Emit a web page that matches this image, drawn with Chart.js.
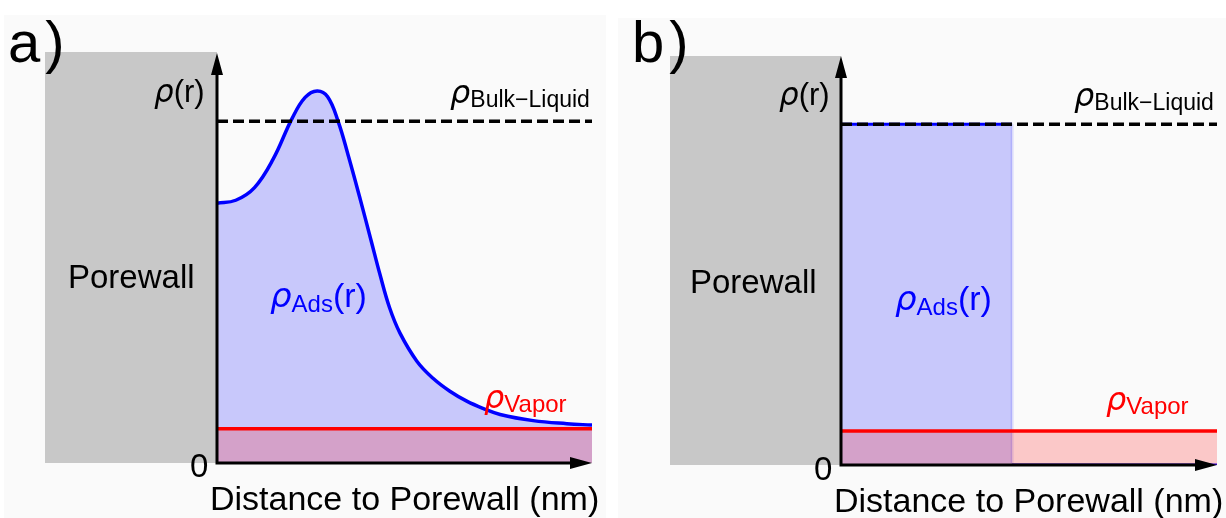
<!DOCTYPE html>
<html>
<head>
<meta charset="utf-8">
<script src="https://cdn.jsdelivr.net/npm/chart.js@4.4.1/dist/chart.umd.min.js"></script>
<style>
  html, body { margin:0; padding:0; background:#fff; }
  #wrap { position:relative; width:1226px; height:518px; overflow:hidden; font-family:"Liberation Sans", Arial, sans-serif; color:#000; }
  .panel { position:absolute; background:#fafafa; }
  .wall { position:absolute; background:#c8c8c8; }
  canvas { position:absolute; top:0; }
  .t { position:absolute; white-space:nowrap; line-height:1; }
  .rho { font-family:"DejaVu Sans", sans-serif; font-style:italic; }
  .sub { position:relative; }
</style>
</head>
<body>
<div id="wrap">
  <div class="panel" style="left:4px;top:15px;width:602px;height:503px"></div>
  <div class="panel" style="left:618px;top:18px;width:608px;height:500px"></div>
  <div class="wall" style="left:45px;top:52px;width:172px;height:411px"></div>
  <div class="wall" style="left:670px;top:56px;width:171px;height:409px"></div>
  <canvas id="chartA" width="613" height="518" style="left:0"></canvas>
  <canvas id="chartB" width="613" height="518" style="left:613px"></canvas>

  <!-- panel a -->
  <div class="t" style="left:8px;top:13px;font-size:58px;letter-spacing:5px">a)</div>
  <div class="t" style="left:154px;top:76px;font-size:31px"><span class="rho">ρ</span>(r)</div>
  <div class="t" style="left:450px;top:76px;font-size:32px"><span class="rho">ρ</span><span class="sub" style="font-size:23px;top:4px">Bulk−Liquid</span></div>
  <div class="t" style="left:68px;top:260px;font-size:33px">Porewall</div>
  <div class="t" style="left:270px;top:278px;font-size:34px;color:#0000ff"><span class="rho">ρ</span><span class="sub" style="font-size:24px;top:5px">Ads</span>(r)</div>
  <div class="t" style="left:484px;top:381px;font-size:32px;color:#ff0000"><span class="rho">ρ</span><span class="sub" style="font-size:24px;top:4px">Vapor</span></div>
  <div class="t" style="left:190px;top:449px;font-size:33px">0</div>
  <div class="t" style="left:210px;top:481px;font-size:34px">Distance to Porewall (nm)</div>

  <!-- panel b -->
  <div class="t" style="left:632px;top:13px;font-size:58px;letter-spacing:5px">b)</div>
  <div class="t" style="left:779px;top:79px;font-size:31px"><span class="rho">ρ</span>(r)</div>
  <div class="t" style="left:1074px;top:79px;font-size:32px"><span class="rho">ρ</span><span class="sub" style="font-size:23px;top:4px">Bulk−Liquid</span></div>
  <div class="t" style="left:690px;top:265px;font-size:33px">Porewall</div>
  <div class="t" style="left:895px;top:281px;font-size:34px;color:#0000ff"><span class="rho">ρ</span><span class="sub" style="font-size:24px;top:5px">Ads</span>(r)</div>
  <div class="t" style="left:1106px;top:383px;font-size:32px;color:#ff0000"><span class="rho">ρ</span><span class="sub" style="font-size:24px;top:4px">Vapor</span></div>
  <div class="t" style="left:814px;top:452px;font-size:33px">0</div>
  <div class="t" style="left:834px;top:483px;font-size:34px">Distance to Porewall (nm)</div>
</div>

<script>
// distance (arbitrary units, 0..10) and density (bulk liquid = 1)
const distA   = [0, 0.5, 1.0, 1.5, 2.0, 2.35, 2.67, 2.95, 3.23, 3.5, 3.8, 4.1, 4.35, 4.6, 4.88, 5.33, 5.76, 6.21, 6.66, 7.09, 7.55, 8.43, 9.33, 10];
const rhoAdsA = [0.76, 0.769, 0.806, 0.89, 1.008, 1.07, 1.089, 1.072, 1.0, 0.9, 0.78, 0.655, 0.55, 0.455, 0.38, 0.298, 0.248, 0.21, 0.181, 0.16, 0.142, 0.124, 0.115, 0.111];

const distB   = [0, 4.55, 4.55, 10];
const rhoAdsB = [1, 1, 0, 0];

const rhoBulk  = 1.0;
const rhoVapor = 0.1;
const xRange = [0, 10];
const yRange = [0, 1.2];

const pts = (xs, ys) => xs.map((x, i) => ({x: x, y: ys[i]}));
const flat = v => [{x: xRange[0], y: v}, {x: xRange[1], y: v}];

const arrowAxes = {
  id: 'arrowAxes',
  afterDatasetsDraw(chart) {
    const ctx = chart.ctx;
    const sx = chart.scales.x, sy = chart.scales.y;
    const x0 = sx.getPixelForValue(xRange[0]), x1 = sx.getPixelForValue(xRange[1]);
    const y0 = sy.getPixelForValue(yRange[0]), y1 = sy.getPixelForValue(yRange[1]);
    const len = 22, hw = 6;
    ctx.save();
    ctx.strokeStyle = '#000';
    ctx.fillStyle = '#000';
    ctx.lineWidth = 3;
    ctx.beginPath();
    ctx.moveTo(x0, y0 + 1.5); ctx.lineTo(x0, y1 + len - 2);
    ctx.moveTo(x0 - 1.5, y0); ctx.lineTo(x1 - len + 2, y0);
    ctx.stroke();
    ctx.beginPath();
    ctx.moveTo(x0, y1); ctx.lineTo(x0 - hw, y1 + len); ctx.lineTo(x0 + hw, y1 + len); ctx.closePath();
    ctx.moveTo(x1, y0); ctx.lineTo(x1 - len, y0 - hw); ctx.lineTo(x1 - len, y0 + hw); ctx.closePath();
    ctx.fill();
    ctx.restore();
  }
};

function makeChart(id, adsData, padding, stepped) {
  const blue = {
    data: adsData,
    borderColor: '#0000ff',
    borderWidth: 3.5,
    backgroundColor: 'rgba(0,0,255,0.2)',
    fill: 'origin',
    pointRadius: 0,
    tension: stepped ? 0 : 0.4
  };
  if (stepped) {
    blue.borderWidth = 3;
    blue.segment = { borderColor: c => c.p0DataIndex === 1 ? 'rgba(0,0,255,0.12)' : undefined };
  }
  return new Chart(document.getElementById(id), {
    type: 'line',
    data: {
      datasets: [
        { data: flat(rhoBulk), borderColor: '#000', borderWidth: 3.5, borderDash: [11, 5], pointRadius: 0, fill: false },
        { data: flat(rhoVapor), borderColor: '#ff0000', borderWidth: 3.5, backgroundColor: 'rgba(255,0,0,0.2)', fill: 'origin', pointRadius: 0 },
        blue
      ]
    },
    options: {
      responsive: false,
      animation: false,
      layout: { padding: padding },
      plugins: { legend: { display: false }, tooltip: { enabled: false } },
      scales: {
        x: { type: 'linear', min: xRange[0], max: xRange[1], display: false },
        y: { type: 'linear', min: yRange[0], max: yRange[1], display: false }
      }
    },
    plugins: [arrowAxes]
  });
}

makeChart('chartA', pts(distA, rhoAdsA), { left: 217, right: 21, top: 53, bottom: 55 }, false);
makeChart('chartB', pts(distB, rhoAdsB), { left: 228, right: 9, top: 56, bottom: 53 }, true);
</script>
</body>
</html>
